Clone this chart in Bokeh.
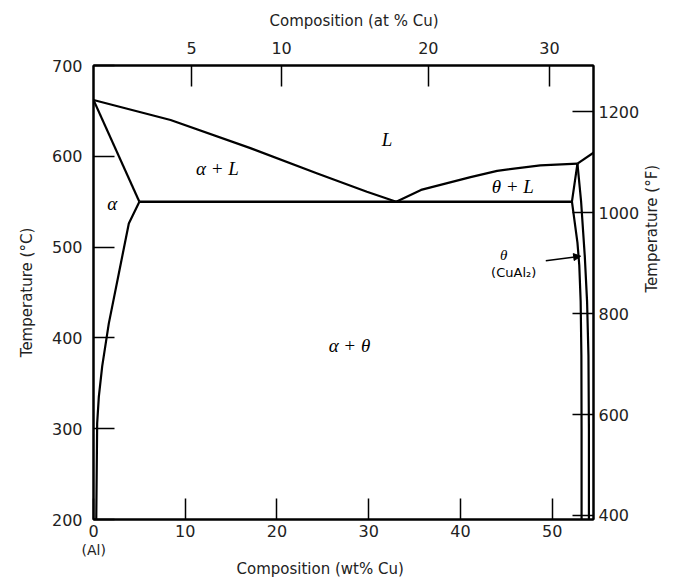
from bokeh.plotting import figure
from bokeh.models import LinearAxis, Range1d, FixedTicker, Label, Arrow, NormalHead, Title
from bokeh.embed import file_html
from bokeh.resources import INLINE

# Al–Cu phase boundaries: composition in wt% Cu, temperature in °C
liquidus_al_wt = [0.0, 8.4, 17.1, 24.4, 29.8, 33.0]
liquidus_al_t = [662, 640, 609, 581, 561, 550]

solidus_wt = [0.0, 5.0]
solidus_t = [662, 550]

solvus_wt = [5.0, 3.85, 2.76, 1.67, 0.95, 0.58, 0.40, 0.30]
solvus_t = [550, 526, 471, 416, 369, 335, 306, 200]

eutectic_wt = [5.0, 52.15]
eutectic_t = [550, 550]

liquidus_theta_wt = [33.0, 35.7, 41.1, 44.0, 48.7, 52.75]
liquidus_theta_t = [550, 563, 577, 584, 590, 592]

liquidus_right_wt = [52.75, 54.5]
liquidus_right_t = [592, 604]

theta_left_wt = [52.75, 52.15, 52.75, 52.95, 53.1, 53.18, 53.2, 53.2]
theta_left_t = [592, 550, 505, 480, 440, 380, 300, 200]

theta_right_wt = [52.75, 53.15, 53.55, 53.8, 53.95, 54.0, 54.0]
theta_right_t = [592, 550, 490, 440, 380, 300, 200]

# axis ticks
wt_ticks = [0, 10, 20, 30, 40, 50]
c_ticks = [200, 300, 400, 500, 600, 700]
f_ticks = [400, 600, 800, 1000, 1200]
at_tick_labels = ["5", "10", "20", "30"]
at_tick_wt = [10.7, 20.5, 36.5, 49.7]   # wt% Cu positions of the at% ticks

TICK_FONT = "DejaVu Sans"
PHASE_FONT = "Liberation Serif"
TEXT_COLOR = "#222222"

p = figure(
    width=673, height=577,
    x_range=Range1d(0, 54.5), y_range=Range1d(200, 700),
    output_backend="svg", toolbar_location=None,
    min_border_left=93, min_border_right=80,
    min_border_top=65, min_border_bottom=57,
    background_fill_color="white", border_fill_color="white",
)
p.grid.visible = False
p.outline_line_color = "black"
p.outline_line_width = 2

p.xaxis.ticker = FixedTicker(ticks=wt_ticks)
p.yaxis.ticker = FixedTicker(ticks=c_ticks)
p.yaxis.axis_label = "Temperature (°C)"

p.extra_y_ranges = {"F": Range1d(200 * 9 / 5 + 32, 700 * 9 / 5 + 32)}
right_axis = LinearAxis(y_range_name="F", ticker=FixedTicker(ticks=f_ticks),
                        axis_label="Temperature (°F)")
if "axis_label_orientation" in right_axis.properties():
    right_axis.axis_label_orientation = 1.5707963267948966
p.add_layout(right_axis, "right")

top_axis = LinearAxis(
    ticker=FixedTicker(ticks=at_tick_wt),
    major_label_overrides={w: s for w, s in zip(at_tick_wt, at_tick_labels)},
)
p.add_layout(top_axis, "above")

for ax in p.axis:
    ax.major_tick_in = 21
    ax.major_tick_out = 0
    ax.minor_tick_line_color = None
    ax.axis_line_width = 2
    ax.major_tick_line_width = 1.5
    ax.major_label_text_font = TICK_FONT
    ax.major_label_text_font_size = "16px"
    ax.major_label_text_color = TEXT_COLOR
    ax.axis_label_text_font = TICK_FONT
    ax.axis_label_text_font_size = "15px"
    ax.axis_label_text_font_style = "normal"
    ax.axis_label_text_color = TEXT_COLOR

p.xaxis[0].major_label_standoff = 3
p.yaxis[0].major_label_standoff = 11
p.yaxis[0].axis_label_standoff = 13
top_axis.major_label_standoff = 12
right_axis.major_label_standoff = 5
right_axis.axis_label_standoff = 10


def side_title(text, side, offset, size, standoff=0):
    p.add_layout(Title(text=text, align="left", offset=offset, standoff=standoff,
                       text_font=TICK_FONT, text_font_size=size, text_font_style="normal",
                       text_color=TEXT_COLOR), side)


# "(Al)" under the 0 tick, then the composition titles
side_title("(Al)", "below", -12, "14px")
side_title("Composition (wt% Cu)", "below", 143, "15px")
side_title("Composition (at % Cu)", "above", 176, "15px", standoff=18)

LW = 2.2
for xs, ys in [
    (liquidus_al_wt, liquidus_al_t),
    (solidus_wt, solidus_t),
    (solvus_wt, solvus_t),
    (liquidus_theta_wt, liquidus_theta_t),
    (liquidus_right_wt, liquidus_right_t),
    (theta_left_wt, theta_left_t),
    (theta_right_wt, theta_right_t),
]:
    p.line(xs, ys, line_color="black", line_width=LW, line_join="round")
p.line(eutectic_wt, eutectic_t, line_color="black", line_width=2.6)


def phase_label(x, y, text, size="19px", font=PHASE_FONT, style="italic"):
    p.add_layout(Label(x=x, y=y, text=text, text_font=font, text_font_size=size,
                       text_font_style=style, text_align="center",
                       text_baseline="middle", text_color="black"))


phase_label(32.0, 619, "L")
phase_label(13.5, 587, "α + L")
phase_label(2.04, 548, "α")
phase_label(45.7, 567, "θ + L")
phase_label(44.7, 491, "θ", size="15px")
phase_label(45.8, 472, "(CuAl₂)", size="13px", font=TICK_FONT, style="normal")
phase_label(27.9, 392, "α + θ")

p.add_layout(Arrow(end=NormalHead(size=7, fill_color="black", line_color="black"),
                   x_start=49.3, y_start=485, x_end=53.1, y_end=490,
                   line_color="black", line_width=1.5))

open("out.html", "w").write(file_html(p, INLINE))
